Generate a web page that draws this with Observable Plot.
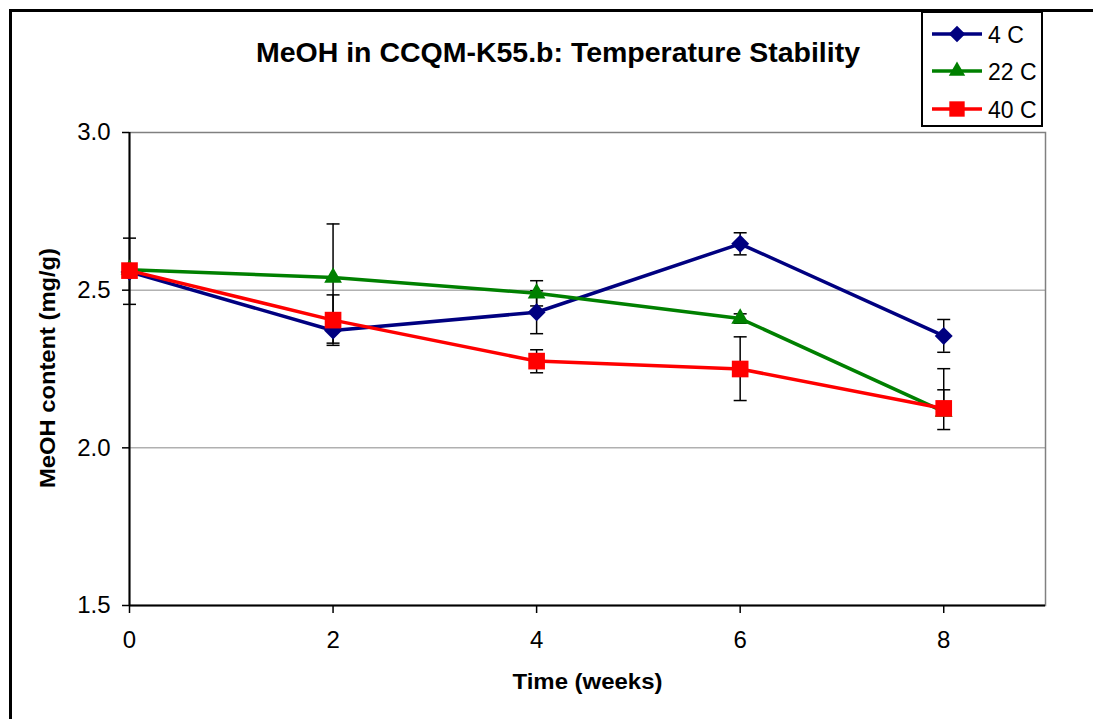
<!DOCTYPE html>
<html><head><meta charset="utf-8">
<script src="https://cdn.jsdelivr.net/npm/d3@7"></script>
<script src="https://cdn.jsdelivr.net/npm/@observablehq/plot@0.6"></script>
<style>
body{margin:0;background:#fff;}
#wrap{position:relative;width:1093px;height:719px;overflow:hidden;background:#fff;font-family:"Liberation Sans",Arial,sans-serif;}
#frame{position:absolute;left:9px;top:9px;width:2000px;height:2000px;border:3px solid #000;}
#chart{position:absolute;left:0;top:0;}
#overlay{position:absolute;left:0;top:0;}
</style></head><body>
<div id="wrap"><div id="frame"></div><div id="chart"></div><svg id="overlay" width="1093" height="719"></svg></div>
<script>
// ---- data ----
const weeks = [0, 2, 4, 6, 8];
const seriesNames = ["4 C", "22 C", "40 C"];
const c4  = [2.558, 2.372, 2.430, 2.647, 2.355];
const c22 = [2.565, 2.540, 2.490, 2.410, 2.115];
const c40 = [2.562, 2.405, 2.275, 2.250, 2.125];
const c4Plus   = [0.000, 0.040, 0.068, 0.035, 0.052];
const c4Minus  = [0.000, 0.040, 0.068, 0.035, 0.052];
const c22Plus  = [0.100, 0.170, 0.040, 0.015, 0.136];
const c22Minus = [0.110, 0.170, 0.040, 0.015, 0.000];
const c40Plus  = [0.000, 0.080, 0.036, 0.102, 0.059];
const c40Minus = [0.000, 0.080, 0.037, 0.100, 0.067];
const yTicks = [1.5, 2.0, 2.5, 3.0];
const gridTicks = [2.0, 2.5];
const title = "MeOH in CCQM-K55.b: Temperature Stability";
const xLabel = "Time (weeks)";
const yLabel = "MeOH content (mg/g)";

// ---- styles ----
const colors = ["#000080", "#008000", "#FF0000"];
const symbols = ["diamond2", "triangle", "square"];
const d3Symbols = [d3.symbolDiamond2, d3.symbolTriangle, d3.symbolSquare];
const radii = [8.1, 6.6, 9.4];

const values = [c4, c22, c40];
const plus = [c4Plus, c22Plus, c40Plus];
const minus = [c4Minus, c22Minus, c40Minus];

const rows = [];
seriesNames.forEach((s, i) => weeks.forEach((w, j) => rows.push({
  series: s, idx: i, week: w, value: values[i][j],
  lo: values[i][j] - minus[i][j], hi: values[i][j] + plus[i][j]
})));
const errRows = rows.filter(d => d.hi > d.lo);
const capRows = [];
rows.forEach(d => {
  if (d.hi > d.value) capRows.push({week: d.week, y: d.hi});
  if (d.lo < d.value) capRows.push({week: d.week, y: d.lo});
});

const capSymbol = {
  draw(ctx, size) {
    const r = Math.sqrt(size / Math.PI);
    ctx.moveTo(-r, 0); ctx.lineTo(r, 0);
  }
};

const seriesMarks = seriesNames.flatMap((s, i) => {
  const data = rows.filter(d => d.idx === i);
  return [
    Plot.line(data, {x: "week", y: "value", stroke: colors[i], strokeWidth: 3.5}),
    Plot.dot(data, {x: "week", y: "value", symbol: () => symbols[i], r: radii[i], fill: colors[i], stroke: "none"})
  ];
});

const chart = Plot.plot({
  width: 1093, height: 719,
  marginLeft: 129, marginRight: 48, marginTop: 132, marginBottom: 114,
  style: {fontFamily: "'Liberation Sans', Arial, sans-serif", color: "#000", background: "transparent"},
  x: {domain: [0, 9]},
  y: {domain: [1.5, 3.0]},
  marks: [
    Plot.gridY(gridTicks, {stroke: "#8a8a8a", strokeOpacity: 1, strokeWidth: 1}),
    Plot.frame({stroke: "#808080", strokeWidth: 1.5}),
    Plot.ruleX([0], {stroke: "#000", strokeWidth: 2}),
    Plot.ruleY([1.5], {stroke: "#000", strokeWidth: 2}),
    Plot.axisY({ticks: yTicks, tickFormat: d => d.toFixed(1), tickSize: 7, tickPadding: 12, fontSize: 24, label: null, stroke: "#000", strokeWidth: 1.5}),
    Plot.axisX({ticks: weeks, tickFormat: d => String(d), tickSize: 8, tickPadding: 17, fontSize: 24, label: null, stroke: "#000", strokeWidth: 1.5}),
    Plot.ruleX(errRows, {x: "week", y1: "lo", y2: "hi", stroke: "#000", strokeWidth: 1.5}),
    Plot.dot(capRows, {x: "week", y: "y", symbol: capSymbol, r: 6.5, stroke: "#000", strokeWidth: 1.5, fill: "none"}),
    ...seriesMarks
  ]
});
document.getElementById("chart").appendChild(chart);

// ---- overlay: title, axis labels, legend ----
const ov = d3.select("#overlay");
const ff = "'Liberation Sans', Arial, sans-serif";
ov.append("text").attr("x", 558).attr("y", 62).attr("text-anchor", "middle")
  .attr("font-family", ff).attr("font-weight", "bold").attr("font-size", 28)
  .attr("textLength", 604).attr("lengthAdjust", "spacingAndGlyphs").text(title);
ov.append("text").attr("x", 587.5).attr("y", 689).attr("text-anchor", "middle")
  .attr("font-family", ff).attr("font-weight", "bold").attr("font-size", 22)
  .attr("textLength", 150).attr("lengthAdjust", "spacingAndGlyphs").text(xLabel);
ov.append("text").attr("transform", "translate(55,368) rotate(-90)").attr("text-anchor", "middle")
  .attr("font-family", ff).attr("font-weight", "bold").attr("font-size", 22)
  .attr("textLength", 240).attr("lengthAdjust", "spacingAndGlyphs").text(yLabel);

const lg = ov.append("g");
lg.append("rect").attr("x", 922).attr("y", 12).attr("width", 120).attr("height", 114)
  .attr("fill", "#fff").attr("stroke", "#000").attr("stroke-width", 2);
const rowY = [34, 71, 109];
seriesNames.forEach((s, i) => {
  const y = rowY[i];
  lg.append("line").attr("x1", 932).attr("x2", 982).attr("y1", y).attr("y2", y)
    .attr("stroke", colors[i]).attr("stroke-width", 3.5);
  lg.append("path").attr("transform", `translate(957,${y})`)
    .attr("d", d3.symbol().type(d3Symbols[i]).size(Math.PI * radii[i] * radii[i] * 0.85)())
    .attr("fill", colors[i]);
  lg.append("text").attr("x", 988).attr("y", y + 8.5).attr("font-family", ff).attr("font-size", 23).text(s);
});
</script>
</body></html>
